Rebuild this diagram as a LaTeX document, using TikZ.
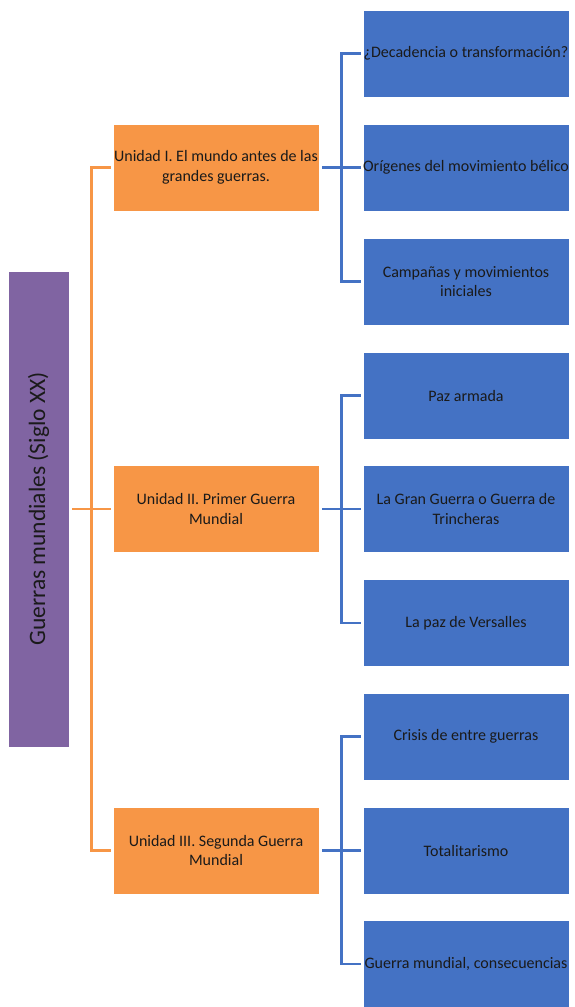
\documentclass[tikz,border=0pt]{standalone}
\usepackage{fontspec}
\setmainfont{Carlito}
\definecolor{orng}{HTML}{F79646}
\definecolor{blu}{HTML}{4472C4}
\definecolor{purp}{HTML}{8064A2}
\definecolor{txt}{HTML}{1A1A1A}
\begin{document}
\begin{tikzpicture}[x=1pt,y=-1pt,
  rootbox/.style={rectangle,fill=purp,draw=white,line width=0.8pt,minimum width=61pt,minimum height=476pt,inner sep=0pt},
  unitbox/.style={rectangle,fill=orng,draw=white,line width=0.8pt,minimum width=206pt,minimum height=87pt,inner sep=0pt,
    align=center,text=txt,font=\fontsize{16}{19.5}\selectfont},
  topicbox/.style={rectangle,fill=blu,draw=white,line width=0.8pt,minimum width=206pt,minimum height=87pt,inner sep=0pt,
    align=center,text=txt,font=\fontsize{16}{19.5}\selectfont},
  oline/.style={draw=orng,line width=2.6pt,shorten <=3pt,shorten >=2pt},
  bline/.style={draw=blu,line width=2.6pt,shorten <=3pt,shorten >=2pt}]
\useasboundingbox (0,0) rectangle (574,1007);
\node[rootbox] (root) at (38.5,509) {};
\node[rotate=90,text=txt,font=\fontsize{23.5}{28}\selectfont] (roottxt) at (root.center) {Guerras mundiales (Siglo XX)};
\node[unitbox] (u1) at (216,167.5) {Unidad I. El mundo antes de las\\grandes guerras.};
\node[unitbox] (u2) at (216,509) {Unidad II. Primer Guerra\\Mundial};
\node[unitbox] (u3) at (216,850.5) {Unidad III. Segunda Guerra\\Mundial};
\node[topicbox] (t1) at (466,53.5) {¿Decadencia o transformación?};
\node[topicbox] (t2) at (466,167.5) {Orígenes del movimiento bélico};
\node[topicbox] (t3) at (466,281.5) {Campañas y movimientos\\iniciales};
\node[topicbox] (t4) at (466,395.5) {Paz armada};
\node[topicbox] (t5) at (466,509) {La Gran Guerra o Guerra de\\Trincheras};
\node[topicbox] (t6) at (466,623) {La paz de Versalles};
\node[topicbox] (t7) at (466,736.5) {Crisis de entre guerras};
\node[topicbox] (t8) at (466,850.5) {Totalitarismo};
\node[topicbox] (t9) at (466,964) {Guerra mundial, consecuencias};
\foreach \u in {u1,u2,u3}
  \draw[oline] (root.east) -- ++(22,0) |- (\u.west);
\foreach \t in {t1,t2,t3}
  \draw[bline] (u1.east) -- ++(22,0) |- (\t.west);
\foreach \t in {t4,t5,t6}
  \draw[bline] (u2.east) -- ++(22,0) |- (\t.west);
\foreach \t in {t7,t8,t9}
  \draw[bline] (u3.east) -- ++(22,0) |- (\t.west);
\end{tikzpicture}
\end{document}
